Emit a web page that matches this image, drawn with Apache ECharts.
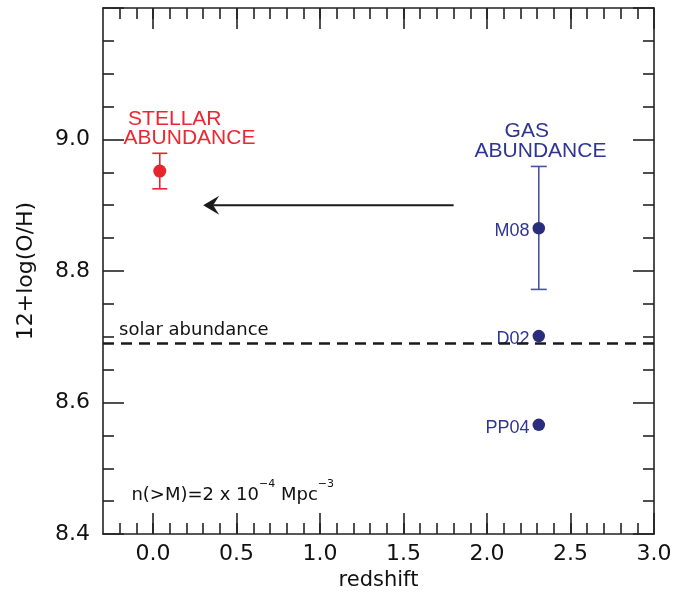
<!DOCTYPE html>
<html>
<head>
<meta charset="utf-8">
<script src="https://cdn.jsdelivr.net/npm/echarts@6/dist/echarts.min.js"></script>
<style>
  html, body { margin: 0; padding: 0; background: #fff; }
  #chart { width: 689px; height: 593px; }
</style>
</head>
<body>
<div id="chart"></div>
<script>
// tick values
const xMajorTicks = [0.0, 0.5, 1.0, 1.5, 2.0, 2.5, 3.0];
const xMinorTicks = [];
for (let i = -2; i < 30; i++) xMinorTicks.push(Math.round(i) / 10);
const yTickLabels = [8.4, 8.6, 8.8, 9.0];

// stellar abundance (z ~ 0)
const stellarRedshift = [0.04];
const stellarOH = [8.952];
const stellarLow = [8.925];
const stellarHigh = [8.979];

// gas abundance at z ~ 2.3, three calibrations
const gasMethods = ["M08", "D02", "PP04"];
const gasRedshift = [2.31, 2.31, 2.31];
const gasOH = [8.865, 8.701, 8.566];
const gasErrRedshift = [2.31];
const gasLow = [8.772];
const gasHigh = [8.959];

const solarOH = 8.69;

// arrow: from gas redshift back to stellar
const arrowFrom = [1.8, 8.9];
const arrowTo = [0.3, 8.9];

const red = "#e8242c";
const redText = "#ee2630";
const navy = "#292d7c";
const blueText = "#2f3592";
const blueBar = "#4c51a8";
const ink = "#1a1a1a";

const chart = echarts.init(document.getElementById("chart"));

const lineStyle = { color: "#222", width: 1.6 };

function xAxisDef(position, ticks, len, main) {
	return {
		type: "value",
		position: position,
		min: -0.3,
		max: 3.0,
		axisLine: { show: main, onZero: false, lineStyle: lineStyle },
		axisTick: { show: true, inside: true, length: len, customValues: ticks, lineStyle: lineStyle },
		axisLabel: position === "bottom" && main
			? {
				show: true,
				customValues: xMajorTicks,
				formatter: (v) => v.toFixed(1),
				fontFamily: "DejaVu Sans",
				fontSize: 22,
				color: "#111",
				margin: 9,
			}
			: { show: false },
		splitLine: { show: false },
		name: position === "bottom" && main ? "redshift" : "",
		nameLocation: "middle",
		nameGap: 36,
		nameTextStyle: { fontFamily: "DejaVu Sans", fontSize: 21, color: "#111" },
	};
}

function yAxisDef(position) {
	return {
		type: "value",
		position: position,
		min: 8.4,
		max: 9.2,
		interval: 0.2,
		axisLine: { show: true, onZero: false, lineStyle: lineStyle },
		axisTick: { show: true, inside: true, length: 21, lineStyle: lineStyle },
		minorTick: { show: true, splitNumber: 4, length: 11, lineStyle: lineStyle },
		axisLabel: position === "left"
			? {
				show: true,
				customValues: yTickLabels,
				formatter: (v) => v.toFixed(1),
				fontFamily: "DejaVu Sans",
				fontSize: 22,
				color: "#111",
				margin: 13,
			}
			: { show: false },
		splitLine: { show: false },
		minorSplitLine: { show: false },
		name: position === "left" ? "12+log(O/H)" : "",
		nameLocation: "middle",
		nameGap: 66,
		nameTextStyle: { fontFamily: "DejaVu Sans", fontSize: 22, color: "#111" },
	};
}

function errorBar(halfCap, color) {
	return (params, api) => {
		const x = api.value(0);
		const top = api.coord([x, api.value(2)]);
		const bot = api.coord([x, api.value(1)]);
		const st = { stroke: color, lineWidth: 1.6 };
		return {
			type: "group",
			children: [
				{ type: "line", shape: { x1: top[0], y1: top[1], x2: bot[0], y2: bot[1] }, style: st },
				{ type: "line", shape: { x1: top[0] - halfCap, y1: top[1], x2: top[0] + halfCap, y2: top[1] }, style: st },
				{ type: "line", shape: { x1: bot[0] - halfCap, y1: bot[1], x2: bot[0] + halfCap, y2: bot[1] }, style: st },
			],
		};
	};
}

// text placed at a data position through an invisible scatter point
function note(x, y, label) {
	return {
		type: "scatter",
		silent: true,
		symbolSize: 1,
		itemStyle: { color: "rgba(0,0,0,0)", opacity: 1 },
		data: [[x, y]],
		label: Object.assign({ show: true, position: "inside" }, label),
		z: 5,
	};
}

const capsFont = { fontFamily: "Liberation Sans", fontSize: 21 };

const option = {
	animation: false,
	grid: { left: 103, right: 35, top: 8, bottom: 59, containLabel: false, outerBoundsMode: "none" },
	xAxis: [
		xAxisDef("bottom", xMajorTicks, 21, true),
		xAxisDef("bottom", xMinorTicks, 11, false),
		xAxisDef("top", xMajorTicks, 21, true),
		xAxisDef("top", xMinorTicks, 11, false),
	],
	yAxis: [yAxisDef("left"), yAxisDef("right")],
	series: [
		{
			type: "custom",
			name: "stellar error",
			renderItem: errorBar(7.5, red),
			encode: { x: 0, y: [1, 2] },
			data: stellarRedshift.map((z, i) => [z, stellarLow[i], stellarHigh[i]]),
			z: 3,
		},
		{
			type: "scatter",
			name: "stellar",
			symbolSize: 13,
			itemStyle: { color: red, opacity: 1 },
			data: stellarRedshift.map((z, i) => [z, stellarOH[i]]),
			z: 4,
		},
		{
			type: "custom",
			name: "gas error",
			renderItem: errorBar(8, blueBar),
			encode: { x: 0, y: [1, 2] },
			data: gasErrRedshift.map((z, i) => [z, gasLow[i], gasHigh[i]]),
			z: 3,
		},
		{
			type: "scatter",
			name: "gas",
			symbolSize: 12.5,
			itemStyle: { color: navy, opacity: 1 },
			data: gasRedshift.map((z, i) => [z, gasOH[i], gasMethods[i]]),
			label: {
				show: true,
				position: "left",
				distance: 3,
				offset: [0, 3],
				formatter: (p) => p.data[2],
				fontFamily: "Liberation Sans",
				fontSize: 18,
				color: blueText,
			},
			markLine: {
				silent: true,
				symbol: "none",
				label: { show: false },
				lineStyle: { color: ink, width: 2.6, type: [11, 7], opacity: 1 },
				data: [{ yAxis: solarOH }],
			},
			z: 4,
		},
		{
			type: "custom",
			name: "arrow",
			renderItem: (params, api) => {
				const tail = api.coord([api.value(0), api.value(1)]);
				const tip = api.coord([api.value(2), api.value(3)]);
				return {
					type: "group",
					children: [
						{
							type: "line",
							shape: { x1: tail[0], y1: tail[1], x2: tip[0] + 10, y2: tip[1] },
							style: { stroke: ink, lineWidth: 2.2 },
						},
						{
							type: "polygon",
							shape: {
								points: [
									[tip[0], tip[1]],
									[tip[0] + 16, tip[1] - 9.5],
									[tip[0] + 10, tip[1]],
									[tip[0] + 16, tip[1] + 9.5],
								],
							},
							style: { fill: ink },
						},
					],
				};
			},
			encode: { x: [0, 2], y: [1, 3] },
			data: [[arrowFrom[0], arrowFrom[1], arrowTo[0], arrowTo[1]]],
			z: 3,
		},
		note(0.13, 9.031, Object.assign({ formatter: "STELLAR", color: redText }, capsFont)),
		note(0.218, 9.002, Object.assign({ formatter: "ABUNDANCE", color: redText }, capsFont)),
		note(2.238, 9.012, Object.assign({ formatter: "GAS", color: blueText }, capsFont)),
		note(2.32, 8.982, Object.assign({ formatter: "ABUNDANCE", color: blueText }, capsFont)),
		note(-0.204, 8.71, {
			formatter: "solar abundance",
			align: "left",
			fontFamily: "DejaVu Sans",
			fontSize: 18,
			color: "#111",
		}),
		note(-0.13, 8.459, {
			formatter: "{m|n(>M)=2 x 10}{s|\u22124}{m| Mpc}{s|\u22123}",
			align: "left",
			rich: {
				m: { fontFamily: "DejaVu Sans", fontSize: 18, lineHeight: 33, color: "#111" },
				s: { fontFamily: "DejaVu Sans", fontSize: 11, lineHeight: 11, verticalAlign: "top", color: "#111" },
			},
		}),
	],
};

chart.setOption(option);
</script>
</body>
</html>
